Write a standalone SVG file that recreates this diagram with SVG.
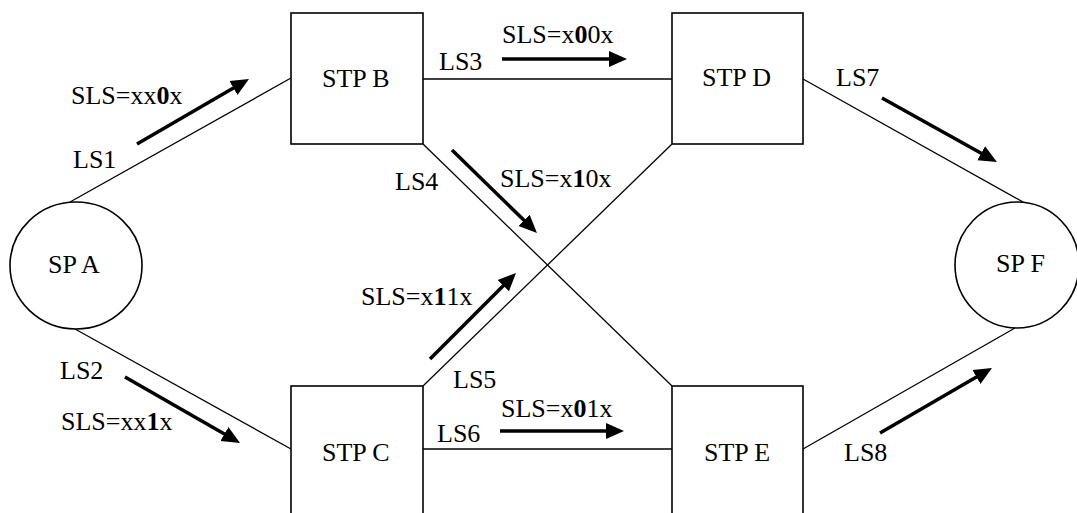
<svg xmlns="http://www.w3.org/2000/svg" width="1077" height="513" viewBox="0 0 1077 513" font-family="'Liberation Serif', 'Times New Roman', 'DejaVu Serif', serif" font-size="26">
<style>
.node{fill:#fff;stroke:#000;stroke-width:1.6}
.link{stroke:#000;stroke-width:1.3;fill:none}
.flow{stroke:#000;stroke-width:3.5;fill:none;marker-end:url(#ah)}
.t{font-family:'Liberation Serif','Times New Roman','DejaVu Serif',serif;font-size:26px;fill:#000}
.b{font-weight:bold}
</style>
<defs>
<marker id="ah" markerUnits="userSpaceOnUse" markerWidth="20" markerHeight="18" refX="1" refY="8" orient="auto" viewBox="0 0 20 16">
<path d="M0,0 L18,8 L0,16 z" fill="#000"/>
</marker>
</defs>
<rect width="1077" height="513" fill="#fff"/>
<g id="connectors">
<line class="link" x1="70" y1="202" x2="291" y2="78"/>
<line class="link" x1="75" y1="329" x2="291" y2="449"/>
<line class="link" x1="423" y1="79" x2="672" y2="79"/>
<line class="link" x1="423" y1="144" x2="672" y2="386"/>
<line class="link" x1="423" y1="386" x2="672" y2="144"/>
<line class="link" x1="423" y1="449" x2="672" y2="449"/>
<line class="link" x1="803" y1="79" x2="1023" y2="202"/>
<line class="link" x1="803" y1="449" x2="1015" y2="328"/>
<line class="flow" x1="137" y1="144" x2="234.3" y2="87.5"/>
<line class="flow" x1="125" y1="377" x2="225.3" y2="434.5"/>
<line class="flow" x1="502" y1="59" x2="610" y2="59"/>
<line class="flow" x1="452" y1="150" x2="524.8" y2="221.1"/>
<line class="flow" x1="430" y1="359" x2="504" y2="285"/>
<line class="flow" x1="500" y1="431" x2="607" y2="431"/>
<line class="flow" x1="882" y1="98" x2="982.1" y2="153.7"/>
<line class="flow" x1="880" y1="433" x2="977.3" y2="376.5"/>
<text class="t" x="73" y="168">LS1</text>
<text class="t" x="71" y="104">SLS=xx<tspan class="b">0</tspan>x</text>
<text class="t" x="60" y="379">LS2</text>
<text class="t" x="61" y="430">SLS=xx<tspan class="b">1</tspan>x</text>
<text class="t" x="439" y="70">LS3</text>
<text class="t" x="502" y="43">SLS=x<tspan class="b">0</tspan>0x</text>
<text class="t" x="395" y="190">LS4</text>
<text class="t" x="500" y="187">SLS=x<tspan class="b">1</tspan>0x</text>
<text class="t" x="453" y="388">LS5</text>
<text class="t" x="361" y="305">SLS=x<tspan class="b">1</tspan>1x</text>
<text class="t" x="437" y="442">LS6</text>
<text class="t" x="501" y="417">SLS=x<tspan class="b">0</tspan>1x</text>
<text class="t" x="836" y="86">LS7</text>
<text class="t" x="844" y="461">LS8</text>
</g>
<g id="spA">
<ellipse class="node" cx="76" cy="265.5" rx="66" ry="63.5"/>
<text class="t" x="48" y="273">SP A</text>
</g>
<g id="stpB">
<rect class="node" x="291" y="13" width="132" height="131"/>
<text class="t" x="322" y="87">STP B</text>
</g>
<g id="stpC">
<rect class="node" x="291" y="386" width="132" height="131"/>
<text class="t" x="322" y="461">STP C</text>
</g>
<g id="stpD">
<rect class="node" x="672" y="13" width="131" height="131"/>
<text class="t" x="702" y="86">STP D</text>
</g>
<g id="stpE">
<rect class="node" x="672" y="386" width="131" height="131"/>
<text class="t" x="704" y="461">STP E</text>
</g>
<g id="spF">
<ellipse class="node" cx="1017" cy="265" rx="62" ry="63"/>
<text class="t" x="996" y="272">SP F</text>
</g>
</svg>
